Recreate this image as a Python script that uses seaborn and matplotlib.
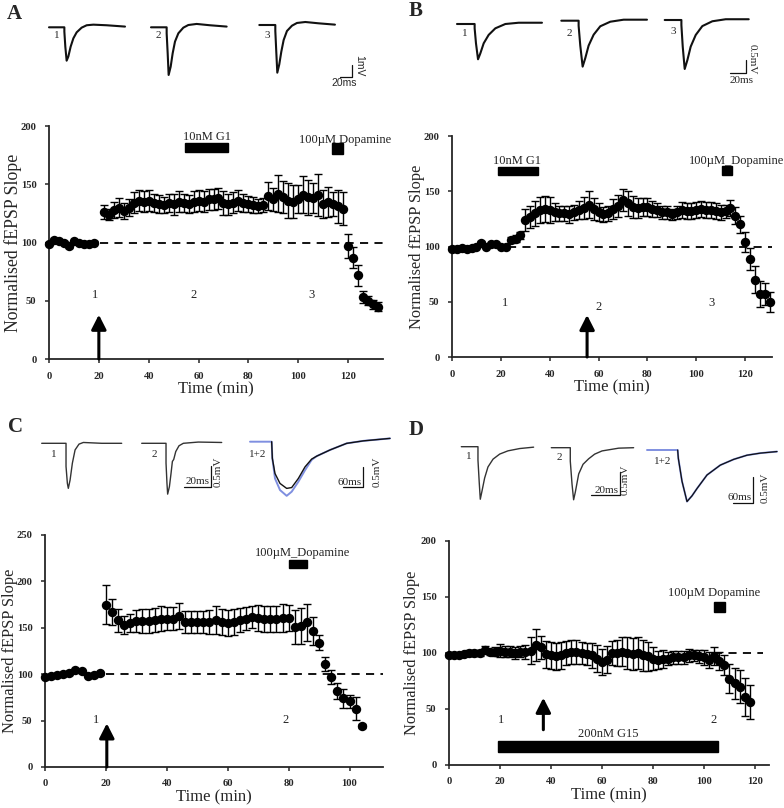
import matplotlib
matplotlib.use("Agg")
import matplotlib.pyplot as plt
from matplotlib.patches import Rectangle
import seaborn as sns

sns.set_style("ticks")
plt.rcParams["font.family"] = ["Liberation Serif", "DejaVu Serif"]

# ---------------- main-panel data ----------------
A_time = list(range(0, 20, 2)) + list(range(22, 134, 2))
A_slope = [99, 102, 101, 100, 97, 101, 100, 99, 99, 100,
           126, 124, 128, 130, 127, 130, 134, 136, 135, 136,
           134, 133, 132, 134, 133, 135, 134, 133, 135, 136,
           135, 137, 137, 138, 134, 133, 134, 136, 134, 133,
           132, 131, 132, 140, 137, 142, 139, 136, 135, 137,
           141, 139, 138, 141, 133, 135, 133, 131, 129,
           97, 87, 72, 53, 50, 47, 45]
A_sem = [1.5, 1.5, 1.5, 1.5, 2, 1.5, 1.5, 1.5, 1.5, 1.5,
         6, 5, 7, 8, 7, 7, 9, 9, 9, 9,
         8, 8, 7, 8, 9, 9, 8, 8, 9, 9,
         9, 9, 9, 9, 10, 9, 9, 9, 8, 7,
         7, 6, 6, 12, 10, 16, 14, 15, 14, 12,
         16, 15, 13, 18, 12, 13, 10, 14, 14,
         10, 9, 9, 5, 4, 4, 4]

B_time = list(range(0, 132, 2))
B_slope = [98, 98, 99, 98, 99, 100, 103, 100, 102, 102, 100, 100,
           106, 107, 110, 124, 127, 130, 133, 134, 133,
           131, 130, 130, 129, 131, 133, 135, 138, 134, 131,
           129, 130, 134, 137, 142, 139, 136, 135, 136, 136,
           134, 133, 131, 131, 129, 131, 133, 132, 132, 133,
           134, 133, 133, 132, 131, 132, 135, 128, 120, 104,
           89, 70, 57, 57, 50]
B_sem = [1.5, 1.5, 1.5, 1.5, 1.5, 1.5, 2, 1.5, 1.5, 1.5, 1.5, 1.5,
         3, 3, 3, 10, 10, 11, 12, 12, 12,
         8, 7, 7, 8, 7, 8, 10, 12, 10, 8,
         7, 7, 9, 10, 10, 11, 10, 9, 8, 8,
         7, 6, 6, 6, 5, 6, 7, 7, 7, 7,
         7, 7, 7, 7, 7, 6, 7, 8, 8, 9,
         10, 12, 12, 10, 9]

C_time = list(range(0, 20, 2)) + list(range(20, 106, 2))
C_slope = [97, 98, 99, 100, 101, 104, 103, 98, 99, 101,
           175, 167, 158, 153, 155, 157, 157, 157, 158, 160,
           160, 160, 163, 156, 156, 156, 156, 156, 158, 156,
           155, 156, 158, 160, 162, 161, 160, 159, 159, 161,
           161, 151, 152, 156, 147, 134, 111, 97, 82, 74,
           71, 63, 44]
C_sem = [1.5] * 10 + [21, 14, 12, 10, 10, 12, 13, 13, 13, 13,
                      12, 12, 14, 12, 12, 12, 12, 13, 15, 14,
                      14, 14, 13, 12, 12, 14, 14, 14, 14, 15,
                      14, 18, 19, 20, 15, 8, 8, 8, 9, 10,
                      7, 12, 2]

D_time = list(range(0, 120, 2))
D_slope = [98, 98, 98, 99, 100, 100, 100, 103, 101, 101,
           102, 101, 101, 100, 101, 101, 102, 107, 105, 99,
           98, 97, 98, 100, 101, 101, 100, 99, 98, 95,
           92, 94, 100, 100, 101, 100, 99, 100, 98, 97,
           95, 94, 95, 95, 96, 96, 96, 98, 98, 97,
           96, 94, 97, 93, 89, 77, 73, 70, 61, 56]
D_sem = [2, 2, 2, 2, 3, 3, 3, 3, 3, 4,
         6, 5, 5, 5, 5, 6, 12, 14, 10, 12,
         12, 12, 12, 11, 11, 11, 10, 10, 11, 12,
         12, 12, 11, 12, 13, 14, 14, 14, 14, 13,
         10, 8, 8, 6, 6, 6, 6, 6, 5, 6,
         7, 7, 8, 8, 9, 13, 14, 15, 17, 15]

# ---------------- inset traces (ms, mV) ----------------
A1_t = [0, 25.6, 25.6, 27.2, 29.4, 32.2, 36.1, 40.6, 46.1, 54.4, 62.8, 73.9, 96.1, 126.7]
A1_v = [0, 0, -0.36, -1.61, -2.78, -2.44, -1.61, -0.92, -0.42, -0.03, 0.17, 0.22, 0.17, 0.06]
A2_t = [0, 26.1, 26.1, 27.8, 29.4, 32.8, 36.1, 40.0, 45.6, 53.9, 62.2, 76.1, 98.3, 126.1]
A2_v = [0, 0, -0.5, -2.17, -3.97, -3.28, -2.17, -1.19, -0.5, -0.03, 0.19, 0.28, 0.17, 0.06]
A3_t = [0, 26.7, 26.7, 28.3, 30.0, 33.3, 36.7, 40.6, 46.1, 54.4, 62.8, 76.7, 98.9, 126.1]
A3_v = [0, 0, -0.5, -2.22, -3.97, -3.28, -2.22, -1.25, -0.5, -0.06, 0.17, 0.25, 0.14, 0.03]

B1_t = [0, 22.4, 22.4, 24.1, 26.7, 29.6, 33.9, 40.2, 48.7, 61.4, 78.3, 107.9]
B1_v = [0, 0, -0.17, -0.76, -1.39, -1.16, -0.76, -0.43, -0.17, 0, 0.05, 0.05]
B2_t = [0, 22.0, 22.0, 24.1, 27.1, 30.5, 34.7, 41.1, 49.5, 62.2, 79.2, 108.8]
B2_v = [0, 0, -0.2, -0.98, -1.81, -1.47, -0.98, -0.55, -0.22, -0.04, 0.04, 0.04]
B3_t = [0, 21.2, 21.2, 22.9, 25.4, 28.8, 33.0, 39.4, 47.8, 60.5, 77.5, 106.7]
B3_v = [0, 0, -0.2, -1.05, -1.93, -1.58, -1.05, -0.59, -0.24, -0.05, 0.03, 0.03]

C1_t = [0, 18.0, 18.0, 19.0, 19.7, 21.0, 22.7, 24.7, 27.6, 30.8, 44.4, 59.2]
C1_v = [0, 0, -0.56, -0.97, -1.09, -0.89, -0.48, -0.16, -0.02, 0.02, 0, 0]
C2_t = [0, 18.0, 18.0, 18.7, 19.2, 20.5, 21.7, 22.7, 23.7, 25.2, 27.6, 30.8, 41.9, 59.2]
C2_v = [0, 0, -0.48, -0.97, -1.23, -1.05, -0.73, -0.44, -0.39, -0.2, -0.06, 0, 0.03, 0.02]
C3_t = [0, 65, 67, 75, 90, 110, 125, 145, 165, 185, 200, 240, 290, 340, 420]
C3_blue = [0, 0, -0.4, -0.89, -1.17, -1.31, -1.21, -0.97, -0.69, -0.44, -0.35, -0.2, -0.04, 0.02, 0.08]
C3_black = [None, 0, -0.4, -0.77, -1.01, -1.13, -1.11, -0.89, -0.61, -0.42, -0.35, -0.2, -0.04, 0.02, 0.08]

D1_t = [0, 11.5, 11.5, 12.4, 13.1, 14.3, 16.1, 18.4, 21.9, 26.5, 32.2, 40.3, 49.9]
D1_v = [0, 0, -0.29, -0.79, -1.14, -0.96, -0.68, -0.44, -0.27, -0.16, -0.09, -0.04, -0.01]
D2_t = [0, 13.1, 13.1, 14.3, 15.4, 16.6, 18.9, 21.9, 25.8, 29.9, 35.0, 46.5, 56.8]
D2_v = [0, 0, -0.29, -0.79, -1.13, -0.96, -0.57, -0.36, -0.24, -0.14, -0.07, -0.01, 0]
D3_t = [0, 92, 94, 105, 120, 135, 150, 180, 220, 260, 300, 340, 390]
D3_v = [0, 0, -0.16, -0.6, -0.99, -0.88, -0.74, -0.48, -0.29, -0.18, -0.1, -0.06, -0.03]

# ---------------- figure ----------------
W, H = 784, 808
fig = plt.figure(figsize=(W / 100, H / 100), dpi=100)


def box(l, t, r, b):
    return [l / W, 1 - b / H, (r - l) / W, (b - t) / H]


def ftext(x, y, s, **kw):
    fig.text(x / W, 1 - y / H, s, **kw)


def main_panel(rect, t, y, e, xlim, ylim, xt, yt, ylab_x, ylab_size=11.8):
    ax = fig.add_axes(box(*rect))
    ax.errorbar(t, y, yerr=e, fmt="none", ecolor="black", elinewidth=1.0,
                capsize=2.7, capthick=1.0, zorder=2, clip_on=False)
    sns.scatterplot(x=t, y=y, ax=ax, color="black", s=46, linewidth=0,
                    zorder=3, clip_on=False, legend=False)
    ax.set_xlim(*xlim)
    ax.set_ylim(*ylim)
    ax.set_xticks(xt)
    ax.set_yticks(yt)
    ax.set_xlabel("Time (min)", fontsize=12, labelpad=1)
    ax.set_ylabel("Normalised fEPSP Slope", fontsize=ylab_size, va="center")
    ax.yaxis.set_label_coords((ylab_x - rect[0]) / (rect[2] - rect[0]), 0.5)
    sns.despine(ax=ax)
    for sp in ["left", "bottom"]:
        ax.spines[sp].set_linewidth(1.3)
    ax.tick_params(labelsize=7.6, length=3, width=1.1, pad=6)
    for lab in ax.get_xticklabels() + ax.get_yticklabels():
        lab.set_fontweight("bold")
    ax.patch.set_alpha(0)
    return ax


def dashed(ax, x0, x1):
    ax.plot([x0, x1], [100, 100], color="black", lw=1.3,
            dashes=(4.5, 3.5), zorder=1, clip_on=False)


def bar(ax, x0, x1, y0, y1):
    ax.add_patch(Rectangle((x0, y0), x1 - x0, y1 - y0, color="black",
                           zorder=4, clip_on=False))


def arrow(ax, x, y0, y1):
    ax.annotate("", xy=(x, y1), xytext=(x, y0),
                arrowprops=dict(arrowstyle="-|>,head_length=0.55,head_width=0.28",
                                lw=2.2, color="black", shrinkA=0, shrinkB=0,
                                mutation_scale=16), zorder=5)


def lab(ax, x, y, s, size=9, **kw):
    ax.text(x, y, s, fontsize=size, color="#222222", **kw)


# Panel A
axA = main_panel((49, 126, 383, 359), A_time, A_slope, A_sem,
                 (0, 134), (0, 200), [0, 20, 40, 60, 80, 100, 120], [0, 50, 100, 150, 200],
                 13, ylab_size=12.8)
dashed(axA, 20.5, 134)
bar(axA, 54.7, 71.7, 178, 185)
lab(axA, 63.2, 185.2, "10nM G1", ha="center", va="bottom")
bar(axA, 113.6, 117.9, 176, 185)
lab(axA, 100.3, 182.5, "100µM Dopamine", ha="left", va="bottom")
lab(axA, 18.3, 55, "1", ha="center", va="center")
lab(axA, 58, 55, "2", ha="center", va="center")
lab(axA, 105.3, 55, "3", ha="center", va="center")
arrow(axA, 20, 0, 38)

# Panel B
axB = main_panel((452, 136, 772, 357), B_time, B_slope, B_sem,
                 (0, 131), (0, 200), [0, 20, 40, 60, 80, 100, 120], [0, 50, 100, 150, 200], 417)
dashed(axB, 23, 131)
bar(axB, 19, 35.3, 164.8, 172.3)
lab(axB, 26.6, 172, "10nM G1", ha="center", va="bottom")
bar(axB, 110.5, 114.8, 164.5, 172.9)
lab(axB, 97.1, 171.5, "100µM_Dopamine", ha="left", va="bottom")
lab(axB, 21.7, 49, "1", ha="center", va="center")
lab(axB, 59.8, 45.5, "2", ha="center", va="center")
lab(axB, 106.4, 48.5, "3", ha="center", va="center")
arrow(axB, 55.3, 0, 38)

# Panel C
axC = main_panel((45, 535, 383, 767), C_time, C_slope, C_sem,
                 (0, 111), (0, 250), [0, 20, 40, 60, 80, 100], [0, 50, 100, 150, 200, 250], 10)
dashed(axC, 20, 111)
bar(axC, 80.2, 85.9, 214.9, 223.5)
lab(axC, 84.7, 224.5, "100µM_Dopamine", ha="center", va="bottom")
lab(axC, 16.8, 51, "1", ha="center", va="center")
lab(axC, 79, 51, "2", ha="center", va="center")
arrow(axC, 20.3, 0, 47)

# Panel D
axD = main_panel((449, 541, 769, 765), D_time, D_slope, D_sem,
                 (0, 125.5), (0, 200), [0, 20, 40, 60, 80, 100, 120], [0, 50, 100, 150, 200], 412)
dashed(axD, 104, 123)
bar(axD, 19.3, 105.4, 11.3, 21.1)
lab(axD, 62.5, 22.3, "200nM G15", ha="center", va="bottom")
bar(axD, 103.9, 108.2, 137, 145.9)
lab(axD, 86, 148.5, "100µM Dopamine", ha="left", va="bottom")
lab(axD, 20.3, 40.4, "1", ha="center", va="center")
lab(axD, 103.7, 40.4, "2", ha="center", va="center")
arrow(axD, 37, 31.5, 60)

# ---------------- traces ----------------
def tax(x0, y0, msp, mvp, left=12, right=150, up=14, down=60):
    ax = fig.add_axes(box(x0 - left, y0 - up, x0 + right, y0 + down))
    ax.set_xlim(-left * msp, right * msp)
    ax.set_ylim(-down * mvp, up * mvp)
    ax.axis("off")
    ax.patch.set_alpha(0)
    return ax


def trace(x0, y0, msp, mvp, t, v, color="#111111", lw=1.5):
    ax = tax(x0, y0, msp, mvp)
    sns.lineplot(x=t, y=v, ax=ax, color=color, lw=lw, sort=False,
                 estimator=None, legend=False)
    return ax


def scalebar(cx, cy, msp, mvp, ms, mv, lw=0.9):
    ax = tax(cx, cy, msp, mvp, left=40, right=5, up=40, down=5)
    ax.plot([-ms, 0, 0], [0, 0, mv], color="#111111", lw=lw, clip_on=False)
    return ax


# A traces
A_msp, A_mvp = 1.667, 0.0833
trace(49, 27.3, A_msp, A_mvp, A1_t, A1_v)
trace(151, 27.3, A_msp, A_mvp, A2_t, A2_v)
trace(259.3, 25, A_msp, A_mvp, A3_t, A3_v)
scalebar(352, 77, A_msp, A_mvp, 20, 1.0)
ftext(344, 83, "20ms", fontsize=7.5, family="Liberation Sans", ha="center", va="center")
ftext(359, 66, "1mV", fontsize=7.5, family="Liberation Sans", rotation=270,
      ha="center", va="center")
for x, y, s in [(57, 35, "1"), (158, 35, "2"), (267, 35, "3")]:
    ftext(x, y, s, fontsize=8, ha="center", va="center")

# B traces
B_msp, B_mvp = 1.27, 0.0394
trace(457, 24, B_msp, B_mvp, B1_t, B1_v)
trace(561.3, 20.7, B_msp, B_mvp, B2_t, B2_v)
trace(664.7, 20, B_msp, B_mvp, B3_t, B3_v)
scalebar(746, 72.7, B_msp, B_mvp, 20, 0.5)
ftext(742, 80.5, "20ms", fontsize=8, ha="center", va="center")
ftext(752.5, 59, "0.5mV", fontsize=8, rotation=270, ha="center", va="center")
for x, y, s in [(465, 33, "1"), (569, 33, "2"), (673, 32, "3")]:
    ftext(x, y, s, fontsize=8, ha="center", va="center")

# C traces
C_msp, C_mvp = 0.74, 0.0242
trace(41.7, 443.3, C_msp, C_mvp, C1_t, C1_v, color="#333333", lw=1.0)
trace(141.7, 443.3, C_msp, C_mvp, C2_t, C2_v, color="#333333", lw=1.0)
scalebar(210.7, 487, C_msp, C_mvp, 20, 0.5)
ftext(209.5, 486.5, "20ms", fontsize=8, ha="right", va="bottom")
ftext(218, 487, "0.5mV", fontsize=8, rotation=90, ha="center", va="bottom")
C3_msp = 3.0
ax3 = tax(250, 441.7, C3_msp, C_mvp)
ax3.plot(C3_t, C3_blue, color="#7f8fe0", lw=1.4)
ax3.plot(C3_t[1:], C3_black[1:], color="#111111", lw=1.0)
scalebar(362.7, 487.3, C3_msp, C_mvp, 60, 0.5)
ftext(361.5, 486.8, "60ms", fontsize=8, ha="right", va="bottom")
ftext(377, 487.3, "0.5mV", fontsize=8, rotation=90, ha="center", va="bottom")
for x, y, s in [(54, 454, "1"), (154, 454, "2"), (258, 455, "1+2")]:
    ftext(x, y, s, fontsize=8, ha="center", va="center")

# D traces
D_msp, D_mvp = 0.69, 0.0217
trace(461.3, 446.7, D_msp, D_mvp, D1_t, D1_v, color="#333333", lw=1.0)
trace(551.3, 447.7, D_msp, D_mvp, D2_t, D2_v, color="#333333", lw=1.0)
scalebar(619.7, 495, D_msp, D_mvp, 20, 0.5)
ftext(618.5, 494.5, "20ms", fontsize=8, ha="right", va="bottom")
ftext(625.5, 495, "0.5mV", fontsize=8, rotation=90, ha="center", va="bottom")
D3_msp, D3_mvp = 3.0, 0.0192
axd3 = tax(647, 450, D3_msp, D3_mvp)
axd3.plot(D3_t, D3_v, color="#7f8fe0", lw=1.4)
axd3.plot(D3_t[1:], D3_v[1:], color="#111111", lw=0.9)
scalebar(753.3, 502.7, D3_msp, D3_mvp, 60, 0.5)
ftext(752, 502.2, "60ms", fontsize=8, ha="right", va="bottom")
ftext(765, 502.7, "0.5mV", fontsize=8, rotation=90, ha="center", va="bottom")
for x, y, s in [(469, 457, "1"), (559, 458, "2"), (663, 462, "1+2")]:
    ftext(x, y, s, fontsize=8, ha="center", va="center")

# panel letters
for x, y, s in [(7, 14, "A"), (409, 11, "B"), (8, 427, "C"), (409, 430, "D")]:
    ftext(x, y, s, fontsize=15, fontweight="bold", ha="left", va="center")

fig.savefig("out.png", dpi=100)
